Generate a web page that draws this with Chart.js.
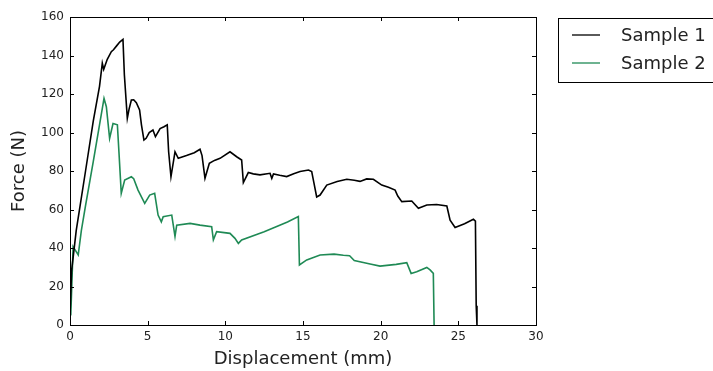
<!DOCTYPE html>
<html>
<head>
<meta charset="utf-8">
<script src="https://cdn.jsdelivr.net/npm/chart.js@4"></script>
<style>
  html, body { margin: 0; padding: 0; background: #fff; }
  #wrap { width: 713px; height: 371px; }
</style>
</head>
<body>
<div id="wrap"><canvas id="myChart" width="713" height="371"></canvas></div>
<script>
// force vs displacement, two samples
const sample1X = [0, 0.1, 0.4, 1.0, 1.5, 1.9, 2.08, 2.17, 2.4, 2.66, 2.8, 3.0, 3.2, 3.41, 3.5, 3.69, 3.8, 3.95, 4.1, 4.27, 4.48, 4.6, 4.76, 4.9, 5.1, 5.34, 5.5, 5.8, 6.05, 6.26, 6.35, 6.5, 6.76, 6.97, 7.5, 8.0, 8.37, 8.5, 8.69, 8.97, 9.3, 9.66, 10.3, 10.73, 11.05, 11.16, 11.48, 11.8, 12.23, 12.88, 12.99, 13.1, 13.5, 13.95, 14.4, 14.81, 15.35, 15.56, 15.7, 15.88, 16.1, 16.53, 17.2, 17.82, 18.3, 18.67, 19.1, 19.53, 20.07, 20.5, 20.93, 21.1, 21.36, 22.0, 22.43, 22.97, 23.6, 24.26, 24.47, 24.79, 25.4, 25.97, 26.1, 26.15, 26.2];
const sample1Y = [5, 28, 49, 80, 106, 124, 136, 132.8, 138, 142, 143, 145, 147, 148.4, 130, 107.4, 112, 116.9, 117, 115.5, 111.7, 104, 96.1, 97, 100, 101.3, 97.8, 102, 103, 104, 90, 77, 90, 86.6, 88, 89.5, 91.3, 88, 76.2, 84, 85.5, 86.6, 90, 87.4, 85.7, 74, 79.2, 78.5, 78, 78.8, 76.2, 78.5, 77.8, 77.1, 78.6, 79.7, 80.5, 79.7, 74, 66.5, 67.5, 72.7, 74.5, 75.7, 75.2, 74.6, 75.9, 75.7, 72.7, 71.5, 70.1, 67, 64.1, 64.4, 60.6, 62.3, 62.6, 61.8, 54.5, 50.7, 52.6, 54.9, 54, 10, 0];

const sample2X = [0.05, 0.2, 0.53, 0.73, 1.0, 1.5, 1.9, 2.19, 2.34, 2.55, 2.77, 3.05, 3.15, 3.3, 3.52, 3.95, 4.1, 4.38, 4.81, 5.13, 5.45, 5.67, 5.88, 6.0, 6.55, 6.76, 6.87, 7.73, 8.37, 9.12, 9.23, 9.44, 10.3, 10.62, 10.84, 11.05, 12.5, 14.0, 14.7, 14.77, 15.24, 16.1, 17.0, 17.6, 18.0, 18.3, 19.32, 19.96, 21.0, 21.68, 21.96, 22.32, 22.97, 23.18, 23.39, 23.44];
const sample2Y = [5, 40.7, 36.4, 49, 62, 85, 104, 117.7, 113.4, 97, 104.7, 104, 90, 68.4, 75.3, 77, 76, 70.1, 63.2, 67.5, 68.4, 57.1, 53.6, 56.3, 57.1, 46, 51.9, 52.8, 51.9, 51.1, 44.2, 48.5, 47.6, 45, 42.4, 44.2, 48.5, 53.5, 56.3, 31.2, 33.8, 36.4, 36.8, 36.2, 36, 33.5, 31.7, 30.6, 31.5, 32.4, 26.8, 27.7, 29.9, 28.6, 26.8, 0];

const seriesNames = ['Sample 1', 'Sample 2'];
const seriesColors = ['#000000', '#1f8a55'];

const xTicks = [0, 5, 10, 15, 20, 25, 30];
const yTicks = [0, 20, 40, 60, 80, 100, 120, 140, 160];

function toPoints(xs, ys) {
    return xs.map((x, i) => ({ x: x, y: ys[i] }));
}

// frame around the plot with inward ticks on every side
const framePlugin = {
    id: 'frame',
    afterDraw(chart) {
        const { ctx, chartArea: a, scales } = chart;
        ctx.save();
        ctx.strokeStyle = '#000';
        ctx.lineWidth = 1;
        ctx.strokeRect(a.left + 0.5, a.top + 0.5, a.right - a.left, a.bottom - a.top);
        ctx.beginPath();
        xTicks.forEach(v => {
            const px = Math.round(scales.x.getPixelForValue(v)) + 0.5;
            ctx.moveTo(px, a.bottom); ctx.lineTo(px, a.bottom - 4);
            ctx.moveTo(px, a.top); ctx.lineTo(px, a.top + 4);
        });
        yTicks.forEach(v => {
            const py = Math.round(scales.y.getPixelForValue(v)) + 0.5;
            ctx.moveTo(a.left, py); ctx.lineTo(a.left + 4, py);
            ctx.moveTo(a.right, py); ctx.lineTo(a.right - 4, py);
        });
        ctx.stroke();
        ctx.restore();
    }
};

// legend box sitting to the right of the plot
const boxLegend = {
    id: 'boxLegend',
    afterDraw(chart) {
        const ctx = chart.ctx;
        const left = chart.chartArea.right + 22;
        const top = chart.chartArea.top + 1;
        ctx.save();
        ctx.strokeStyle = '#000';
        ctx.lineWidth = 1;
        ctx.strokeRect(left + 0.5, top + 0.5, 200, 64);
        ctx.font = '18px "DejaVu Sans"';
        ctx.textBaseline = 'middle';
        chart.data.datasets.forEach((ds, i) => {
            const y = top + 17 + i * 28;
            ctx.strokeStyle = ds.borderColor;
            ctx.lineWidth = 1.3;
            ctx.beginPath();
            ctx.moveTo(left + 14, y);
            ctx.lineTo(left + 42, y);
            ctx.stroke();
            ctx.fillStyle = '#222';
            ctx.fillText(ds.label, left + 63, y + 1);
        });
        ctx.restore();
    }
};

const ctx = document.getElementById('myChart');
const myChart = new Chart(ctx, {
    type: 'scatter',
    data: {
        datasets: [
            {
                label: seriesNames[0],
                data: toPoints(sample1X, sample1Y),
                borderColor: seriesColors[0],
                borderWidth: 1.6,
                showLine: true,
                pointRadius: 0,
                tension: 0
            },
            {
                label: seriesNames[1],
                data: toPoints(sample2X, sample2Y),
                borderColor: seriesColors[1],
                borderWidth: 1.6,
                showLine: true,
                pointRadius: 0,
                tension: 0
            }
        ]
    },
    options: {
        responsive: false,
        animation: false,
        layout: { padding: { left: 0, top: 17, right: 177, bottom: 0 } },
        plugins: {
            legend: { display: false },
            tooltip: { enabled: false }
        },
        scales: {
            x: {
                type: 'linear',
                min: 0,
                max: 30,
                afterBuildTicks: s => { s.ticks = xTicks.map(v => ({ value: v })); },
                afterFit: s => { s.height = 46; },
                grid: { display: false, drawTicks: false },
                border: { display: false },
                ticks: { padding: 5, color: '#222', font: { family: 'DejaVu Sans', size: 12 } },
                title: {
                    display: true,
                    text: 'Displacement (mm)',
                    color: '#222',
                    font: { family: 'DejaVu Sans', size: 18 },
                    padding: { top: 0, bottom: 1 }
                }
            },
            y: {
                min: 0,
                max: 160,
                afterBuildTicks: s => { s.ticks = yTicks.map(v => ({ value: v })); },
                afterFit: s => { s.width = 70; },
                grid: { display: false, drawTicks: false },
                border: { display: false },
                ticks: { padding: 6, color: '#222', font: { family: 'DejaVu Sans', size: 12 } },
                title: {
                    display: true,
                    text: 'Force (N)',
                    color: '#222',
                    font: { family: 'DejaVu Sans', size: 18 },
                    padding: { top: 9, bottom: 0 }
                }
            }
        }
    },
    plugins: [framePlugin, boxLegend]
});
</script>
</body>
</html>
